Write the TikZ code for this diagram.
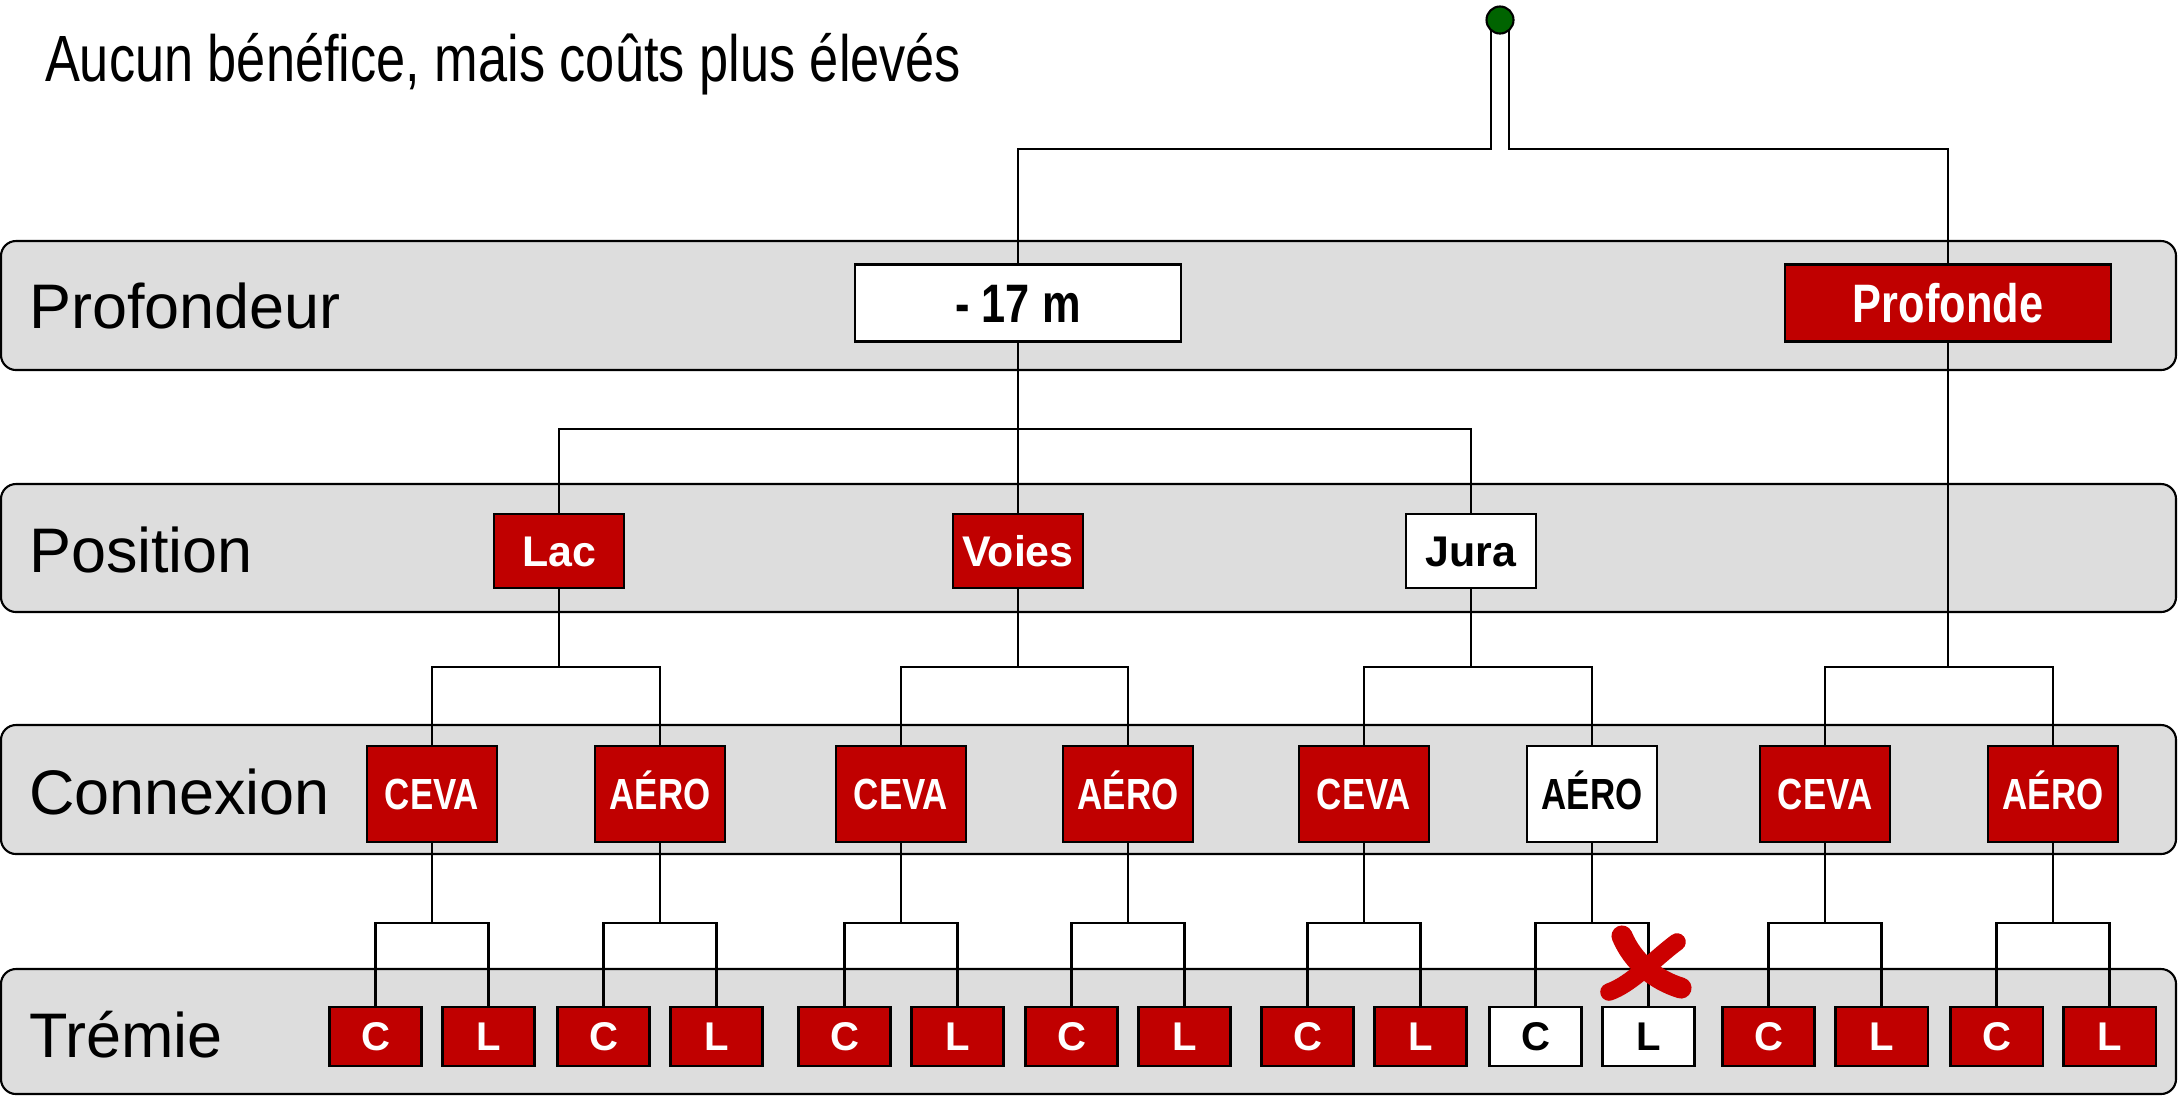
\documentclass[tikz,border=0pt]{standalone}
\usepackage{fontspec}
\setmainfont{Liberation Sans}
\newfontfamily\smalfont{Liberation Sans}[FakeStretch=0.8]

\definecolor{rood}{HTML}{C00000}
\definecolor{kruisrood}{HTML}{CC0000}
\definecolor{grijs}{HTML}{DDDDDD}
\definecolor{groen}{HTML}{006400}

\tikzset{
  band/.style={draw, fill=grijs, rounded corners=0.15cm},
  laag/.style={anchor=west, inner sep=0pt, font=\fontsize{17.9}{20}\selectfont,
    text height=12.8pt, text depth=0pt},
  titel/.style={anchor=west, inner sep=0pt, font=\smalfont\fontsize{18.6}{22}\selectfont,
    text height=13.3pt, text depth=0pt},
  vak/.style={draw, inner sep=0pt, text depth=0pt},
  vak1/.style={vak, minimum width=3.26cm, minimum height=0.77cm,
    font=\smalfont\bfseries\fontsize{15.4}{17}\selectfont, text height=11pt},
  vak2/.style={vak, minimum width=1.30cm, minimum height=0.74cm,
    font=\bfseries\fontsize{12.2}{14}\selectfont, text height=8.7pt},
  vak3/.style={vak, minimum width=1.30cm, minimum height=0.96cm,
    font=\smalfont\bfseries\fontsize{12.4}{14}\selectfont, text height=8.9pt},
  vak4/.style={vak, minimum width=0.92cm, minimum height=0.59cm,
    font=\bfseries\fontsize{11.4}{13}\selectfont, text height=8.2pt},
  stip/.style={circle, draw, fill=groen, inner sep=0pt, minimum size=0.27cm},
  kruis/.style={draw=kruisrood, line cap=round}
}

\begin{document}
\begin{tikzpicture}[x=0.01cm, y=-0.01cm, line width=0.6pt]
    \useasboundingbox (0,0) rectangle (2179,1096);

    % Grijze banden
    \draw[band] (1,241) rectangle (2176,370);
    \draw[band] (1,484) rectangle (2176,612);
    \draw[band] (1,725) rectangle (2176,854);
    \draw[band] (1,969) rectangle (2176,1094);

    % Titel en namen van de lagen
    \node[titel] (titel) at (44,58) {Aucun bénéfice, mais coûts plus élevés};
    \node[laag] (profondeur) at (28,306) {Profondeur};
    \node[laag] (position) at (28,550) {Position};
    \node[laag] (connexion) at (28,792) {Connexion};
    \node[laag] (tremie) at (28,1035) {Trémie};

    % Hoogtes van de horizontale verbindingen
    \coordinate (top) at (1500,20);
    \coordinate (bus0) at (0,149);
    \coordinate (bus1) at (0,429);
    \coordinate (bus2) at (0,667);
    \coordinate (bus3) at (0,923);

    % Eerste en tweede laag
    \node[vak1, fill=white] (m17) at (1018,303) {- 17 m};
    \node[vak1, fill=rood, text=white] (profonde) at (1948,303) {Profonde};

    \node[vak2, fill=rood, text=white] (lac) at (559,551) {Lac};
    \node[vak2, fill=rood, text=white] (voies) at (1018,551) {Voies};
    \node[vak2, fill=white] (jura) at (1471,551) {Jura};

    % Derde en vierde laag
    \foreach \i/\x/\t/\f/\k in {1/432/CEVA/rood/white, 2/660/AÉRO/rood/white,
        3/901/CEVA/rood/white, 4/1128/AÉRO/rood/white, 5/1364/CEVA/rood/white,
        6/1592/AÉRO/white/black, 7/1825/CEVA/rood/white, 8/2053/AÉRO/rood/white} {
      \node[vak3, fill=\f, text=\k] (v\i) at (\x,794) {\t};
      \node[vak4, fill=\f, text=\k] (c\i) at (\x-56.5,1036.5) {C};
      \node[vak4, fill=\f, text=\k] (l\i) at (\x+56.5,1036.5) {L};
      \draw (v\i.south) -- (v\i.south |- bus3);
      \draw (c\i.north) |- (l\i.north |- bus3) -- (l\i.north);
    }

    % Verbindingen vanaf de wortel
    \draw ([xshift=-0.09cm]top) |- (m17.north |- bus0) -- (m17.north);
    \draw ([xshift=0.09cm]top) |- (profonde.north |- bus0) -- (profonde.north);
    \node[stip] (wortel) at (top) {};

    \draw (m17.south) -- (voies.north);
    \draw (lac.north) |- (jura.north |- bus1) -- (jura.north);

    \foreach \o/\a/\b in {lac/1/2, voies/3/4, jura/5/6, profonde/7/8} {
      \draw (\o.south) -- (\o.south |- bus2);
      \draw (v\a.north) |- (v\b.north |- bus2) -- (v\b.north);
    }

    % Rood kruis
    \draw[kruis, line width=6pt] (1622,936) .. controls (1633,962) and (1655,980) .. (1681,988);
    \draw[kruis, line width=5pt] (1677,942) .. controls (1655,958) and (1632,984) .. (1609,992);
\end{tikzpicture}
\end{document}
